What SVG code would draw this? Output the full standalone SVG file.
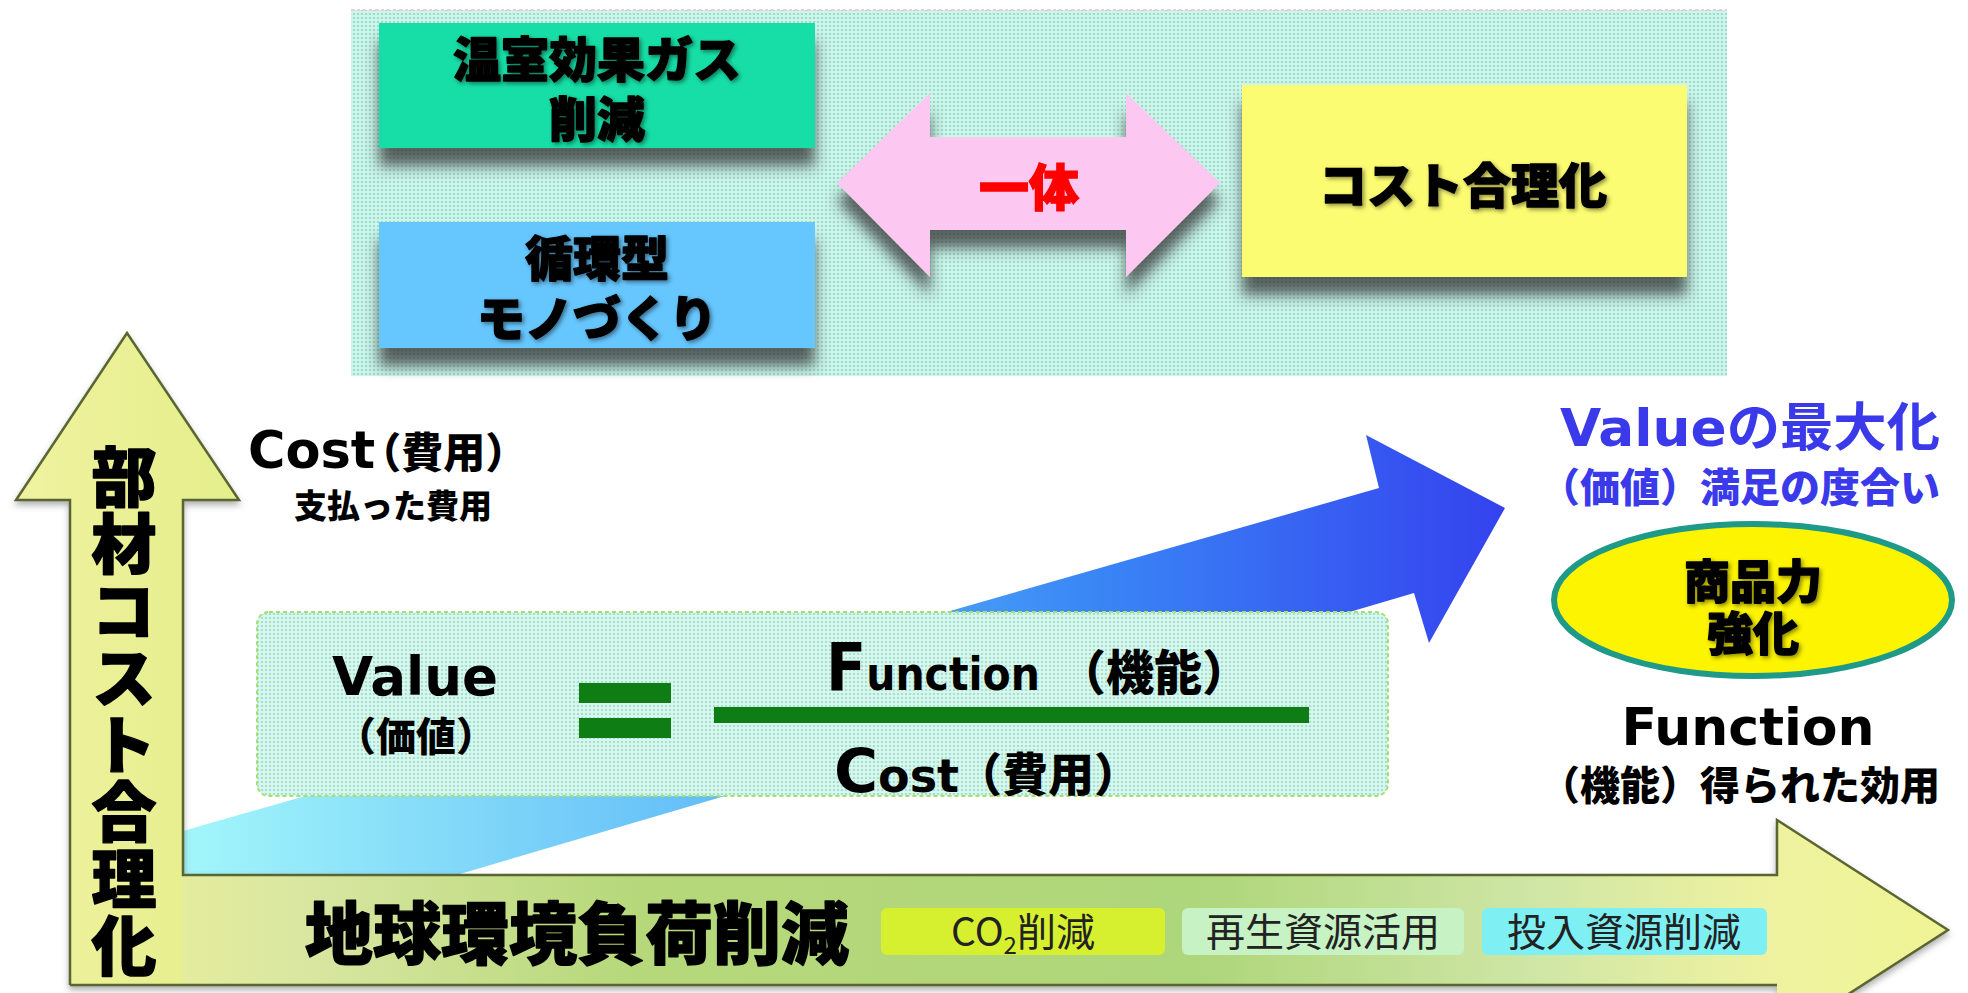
<svg xmlns="http://www.w3.org/2000/svg" width="1968" height="993" viewBox="0 0 1968 993">
<style>
.cjk{font-family:"Noto Sans CJK JP",sans-serif;font-weight:900}
.heavy{stroke:#000;stroke-width:1.4;stroke-linejoin:round}
.lat{font-family:"DejaVu Sans","Noto Sans CJK JP",sans-serif;font-weight:700}
.reg{font-family:"Noto Sans CJK JP",sans-serif;font-weight:400;fill:#222}
.blue{fill:#3a3aea}
.mid{text-anchor:middle}
</style>
<defs>
<pattern id="dots" width="4" height="4" patternUnits="userSpaceOnUse">
<rect width="4" height="4" fill="#cdf5ea"/>
<circle cx="2" cy="2" r="1.1" fill="#8fd6c4"/>
</pattern>
<pattern id="dots2" width="4" height="4" patternUnits="userSpaceOnUse">
<rect width="4" height="4" fill="#d6f6ee"/>
<circle cx="2" cy="2" r="1.1" fill="#98dcc4"/>
</pattern>
<linearGradient id="gBlue" gradientUnits="userSpaceOnUse" x1="183" y1="0" x2="1505" y2="0">
<stop offset="0" stop-color="#a2f6fa"/>
<stop offset="0.45" stop-color="#5cb6f8"/>
<stop offset="0.68" stop-color="#3a88f6"/>
<stop offset="1" stop-color="#3442ee"/>
</linearGradient>
<linearGradient id="gH" gradientUnits="userSpaceOnUse" x1="70" y1="0" x2="1950" y2="0">
<stop offset="0" stop-color="#eef29c"/>
<stop offset="0.13" stop-color="#d8e6a0"/>
<stop offset="0.3" stop-color="#b6d87a"/>
<stop offset="0.6" stop-color="#aed67a"/>
<stop offset="0.78" stop-color="#cfe6a6"/>
<stop offset="0.9" stop-color="#eef2a0"/>
<stop offset="1" stop-color="#f0f494"/>
</linearGradient>
<linearGradient id="gV" x1="0" y1="0" x2="1" y2="0">
<stop offset="0" stop-color="#f0f2a0"/>
<stop offset="1" stop-color="#e4ee8a"/>
</linearGradient>
<filter id="shadow" x="-10%" y="-10%" width="120%" height="160%">
<feGaussianBlur in="SourceAlpha" stdDeviation="7"/>
<feOffset dy="18" result="b"/>
<feFlood flood-color="#333" flood-opacity="0.75"/>
<feComposite in2="b" operator="in"/>
<feMerge><feMergeNode/><feMergeNode in="SourceGraphic"/></feMerge>
</filter>
<filter id="tsh" x="-10%" y="-20%" width="120%" height="150%">
<feGaussianBlur in="SourceAlpha" stdDeviation="2"/>
<feOffset dx="2" dy="2" result="b"/>
<feFlood flood-color="#000" flood-opacity="0.45"/>
<feComposite in2="b" operator="in"/>
<feMerge><feMergeNode/><feMergeNode in="SourceGraphic"/></feMerge>
</filter>
<filter id="axsh" x="-5%" y="-5%" width="110%" height="115%">
<feGaussianBlur in="SourceAlpha" stdDeviation="3"/>
<feOffset dy="4" result="b"/>
<feFlood flood-color="#666" flood-opacity="0.5"/>
<feComposite in2="b" operator="in"/>
<feMerge><feMergeNode/><feMergeNode in="SourceGraphic"/></feMerge>
</filter>
</defs>
<rect width="1968" height="993" fill="#ffffff"/>

<g id="top-panel">
<rect x="351" y="10" width="1376" height="366" fill="url(#dots)"/>
<line x1="351" y1="10" x2="1727" y2="10" stroke="#f0c8d8" stroke-width="2" stroke-dasharray="3 3"/>
</g>

<g id="ghg-box">
<rect x="379" y="23" width="436" height="125" fill="#12dea6" filter="url(#shadow)"/>
<text class="cjk heavy mid" x="597" y="77" font-size="48" filter="url(#tsh)"><tspan x="597" y="77">温室効果ガス</tspan><tspan x="597" y="137">削減</tspan></text>
</g>

<g id="circular-box">
<rect x="379" y="222" width="436" height="126" fill="#66c6fe" filter="url(#shadow)"/>
<text class="cjk heavy mid" x="597" y="276" font-size="48" filter="url(#tsh)"><tspan x="597" y="276">循環型</tspan><tspan x="597" y="336">モノづくり</tspan></text>
</g>

<g id="cost-box">
<rect x="1242" y="85" width="445" height="192" fill="#fcfc72" filter="url(#shadow)"/>
<text class="cjk heavy mid" x="1463" y="203" font-size="48" filter="url(#tsh)">コスト合理化</text>
</g>

<g id="connectors">
<polygon id="ittai-arrow" points="837,183 930,93 930,137 1126,137 1126,93 1220,183 1126,277 1126,230 930,230 930,277" fill="#fcc8f2" filter="url(#shadow)"/>
<polygon id="blue-arrow" points="183,831 1379,488 1366,435 1505,508 1429,643 1414,593 460,874 183,874" fill="url(#gBlue)"/>
</g>
<text class="cjk mid" x="1029" y="206" font-size="50" fill="#ff0000" stroke="#ff0000" stroke-width="1.4">一体</text>

<g id="axes" filter="url(#axsh)">
<polygon points="70,875 1777,875 1777,820 1948,930 1777,1040 1777,985 70,985" fill="url(#gH)"/>
<polygon points="70,985 70,500 16,500 127,333 239,500 183,500 183,985" fill="url(#gV)"/>
<path d="M70,985 L70,500 L16,500 L127,333 L239,500 L183,500 L183,875 L1777,875 L1777,820 L1948,930 L1777,1040 M1777,985 L70,985" fill="none" stroke="#5a6630" stroke-width="2.5"/>
</g>

<g id="v-axis-label">
<text class="cjk heavy" x="124" y="444" font-size="65" letter-spacing="2" writing-mode="vertical-rl">部材コスト合理化</text>
</g>

<g id="h-axis-label">
<text class="cjk heavy" x="305" y="959" font-size="68">地球環境負荷削減</text>
</g>

<g id="tag-co2">
<rect x="881" y="908" width="284" height="47" rx="6" fill="#d6f030"/>
<text class="reg" x="1023" y="946" font-size="39" text-anchor="middle">CO<tspan font-size="24" dy="8">2</tspan><tspan dy="-8">削減</tspan></text>
</g>
<g id="tag-recycle">
<rect x="1182" y="908" width="282" height="47" rx="6" fill="#c6f2c4"/>
<text class="reg mid" x="1323" y="946" font-size="39">再生資源活用</text>
</g>
<g id="tag-input">
<rect x="1482" y="908" width="285" height="47" rx="6" fill="#7ef0f4"/>
<text class="reg mid" x="1624" y="946" font-size="39">投入資源削減</text>
</g>

<g id="cost-label">
<text class="lat" x="248" y="468"><tspan font-size="51">Cost</tspan><tspan font-size="42" font-weight="900" dx="-16">（費用）</tspan></text>
<text class="cjk" x="294" y="518" font-size="33">支払った費用</text>
</g>

<g id="formula-box">
<rect x="257" y="612" width="1131" height="184" rx="12" fill="url(#dots2)" stroke="#a8e070" stroke-width="2" stroke-dasharray="4 3"/>
<text class="lat mid" x="415" y="695" font-size="53" textLength="166" lengthAdjust="spacingAndGlyphs">Value</text>
<text class="cjk mid" x="416" y="751" font-size="40">（価値）</text>
<rect x="579" y="683" width="92" height="20" fill="#0e7d14"/>
<rect x="579" y="718" width="92" height="20" fill="#0e7d14"/>
<rect x="714" y="707" width="595" height="16" fill="#0e7d14"/>
<text class="lat" x="826" y="690" textLength="214" lengthAdjust="spacingAndGlyphs"><tspan font-size="66">F</tspan><tspan font-size="46">unction</tspan></text>
<text class="cjk" x="1058" y="690" font-size="48">（機能）</text>
<text class="lat" x="834" y="792"><tspan font-size="60">C</tspan><tspan font-size="46">ost</tspan></text>
<text class="cjk" x="956" y="791" font-size="46">（費用）</text>
</g>

<g id="value-max">
<text class="lat blue" x="1560" y="446" font-size="52" textLength="380" lengthAdjust="spacingAndGlyphs">Valueの最大化</text>
<text class="cjk blue" x="1540" y="502" font-size="40">（価値）満足の度合い</text>
</g>

<g id="product-ellipse">
<ellipse cx="1753" cy="600" rx="199" ry="76" fill="#fcf400" stroke="#1f9a88" stroke-width="6"/>
<text class="cjk heavy mid" font-size="46" filter="url(#tsh)"><tspan x="1753" y="598">商品力</tspan><tspan x="1753" y="650">強化</tspan></text>
</g>

<g id="function-label">
<text class="lat mid" x="1748" y="745" font-size="52">Function</text>
<text class="cjk" x="1540" y="800" font-size="40">（機能）得られた効用</text>
</g>
</svg>
